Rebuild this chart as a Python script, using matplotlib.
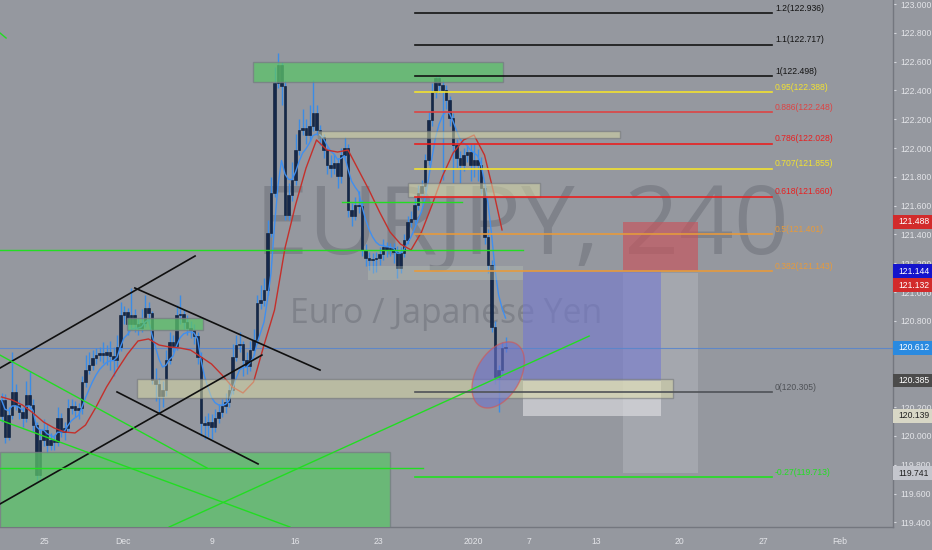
import matplotlib
matplotlib.use("Agg")
import matplotlib.pyplot as plt
import matplotlib.transforms as mtransforms
from matplotlib.patches import Rectangle, Polygon
import numpy as np
import pandas as pd

# ---- EURJPY 240 candles ----
first_open = 120.14
closes = [120.250, 119.993, 120.146, 120.306, 120.215, 120.167, 120.125, 120.285, 120.215, 120.076,
          119.729, 119.972, 120.042, 119.938, 119.972, 119.958, 120.125, 120.028, 120.056, 120.194,
          120.208, 120.181, 120.194, 120.375, 120.458, 120.493, 120.542, 120.563, 120.576, 120.563,
          120.583, 120.556, 120.528, 120.618, 120.840, 120.861, 120.778, 120.840, 120.778, 120.750,
          120.785, 120.889, 120.854, 120.389, 120.361, 120.278, 120.319, 120.528, 120.653, 120.625,
          120.840, 120.847, 120.792, 120.750, 120.736, 120.694, 120.549, 120.090, 120.076, 120.097,
          120.063, 120.125, 120.167, 120.208, 120.236, 120.319, 120.549, 120.632, 120.639, 120.528,
          120.486, 120.597, 120.667, 120.924, 120.944, 121.014, 121.410, 121.688, 122.451, 122.576,
          122.431, 121.535, 121.674, 121.778, 121.986, 122.125, 122.139, 122.090, 122.153, 122.243,
          122.125, 122.076, 121.986, 121.882, 121.861, 121.896, 121.806, 121.951, 122.000, 121.569,
          121.528, 121.604, 121.597, 121.292, 121.236, 121.222, 121.229, 121.236, 121.264, 121.313,
          121.292, 121.306, 121.278, 121.167, 121.271, 121.361, 121.486, 121.507, 121.604, 121.688,
          121.736, 121.917, 122.194, 122.389, 122.486, 122.438, 122.403, 122.333, 122.208, 122.021,
          121.931, 121.882, 121.951, 121.972, 121.882, 121.917, 121.882, 121.722, 121.382, 121.188,
          120.757, 120.410, 120.458, 120.611, 120.612]
highs = [120.30, 120.29, 120.20, 120.58, 120.36, 120.25, 120.20, 120.38, 120.45, 120.26,
         120.10, 120.05, 120.12, 120.08, 120.02, 120.01, 120.20, 120.16, 120.10, 120.26,
         120.26, 120.24, 120.23, 120.42, 120.56, 120.58, 120.60, 120.61, 120.62, 120.65,
         120.63, 120.66, 120.62, 120.70, 120.93, 120.90, 120.89, 121.03, 120.88, 120.82,
         120.88, 120.98, 120.93, 120.87, 120.47, 120.40, 120.38, 120.60, 120.72, 120.70,
         120.91, 120.98, 120.88, 120.84, 120.80, 120.78, 120.72, 120.58, 120.14, 120.16,
         120.15, 120.19, 120.22, 120.26, 120.30, 120.38, 120.64, 120.70, 120.72, 120.66,
         120.58, 120.66, 120.74, 120.98, 121.05, 121.10, 121.50, 121.80, 122.56, 122.66,
         122.60, 122.47, 121.76, 121.90, 122.10, 122.20, 122.27, 122.20, 122.30, 122.47,
         122.30, 122.16, 122.10, 122.01, 121.95, 121.96, 121.93, 122.00, 122.08, 122.03,
         121.62, 121.66, 121.70, 121.64, 121.33, 121.28, 121.27, 121.28, 121.31, 121.37,
         121.35, 121.34, 121.34, 121.32, 121.31, 121.40, 121.53, 121.56, 121.65, 121.74,
         121.78, 121.96, 122.26, 122.45, 122.50, 122.50, 122.47, 122.44, 122.36, 122.24,
         122.06, 121.98, 122.00, 122.02, 122.03, 122.03, 121.99, 121.94, 121.75, 121.44,
         121.22, 120.80, 120.49, 120.65, 120.69]
lows = [120.10, 119.95, 119.97, 120.12, 120.18, 120.12, 120.06, 120.10, 120.19, 120.03,
        119.68, 119.71, 119.93, 119.88, 119.90, 119.90, 119.93, 119.99, 119.97, 120.03,
        120.15, 120.13, 120.12, 120.15, 120.34, 120.43, 120.46, 120.50, 120.52, 120.51,
        120.49, 120.46, 120.42, 120.48, 120.59, 120.78, 120.70, 120.75, 120.72, 120.70,
        120.72, 120.76, 120.80, 120.36, 120.24, 120.17, 120.20, 120.28, 120.50, 120.58,
        120.60, 120.78, 120.74, 120.70, 120.68, 120.64, 120.50, 120.00, 119.98, 119.99,
        119.98, 120.03, 120.09, 120.13, 120.16, 120.20, 120.29, 120.52, 120.58, 120.42,
        120.43, 120.45, 120.56, 120.64, 120.88, 120.90, 120.98, 121.38, 121.66, 122.42,
        122.30, 121.50, 121.50, 121.63, 121.74, 121.95, 122.09, 122.03, 122.05, 122.12,
        122.09, 122.02, 121.93, 121.82, 121.80, 121.82, 121.72, 121.76, 121.92, 121.52,
        121.46, 121.50, 121.55, 121.25, 121.18, 121.15, 121.13, 121.14, 121.19, 121.22,
        121.24, 121.25, 121.20, 121.10, 121.13, 121.24, 121.33, 121.45, 121.47, 121.57,
        121.65, 121.70, 121.88, 122.15, 122.35, 122.38, 121.78, 122.27, 122.15, 121.76,
        121.86, 121.76, 121.84, 121.90, 121.77, 121.80, 121.77, 121.68, 121.33, 121.13,
        120.72, 120.36, 120.17, 120.43, 120.58]

# slow red MA, read every 3rd bar
red_ma_bars = list(range(0, 142, 3)) + [143]
red_ma = [120.271, 120.250, 120.215, 120.160, 120.097, 120.056, 120.028, 120.021, 120.076, 120.201,
          120.340, 120.458, 120.569, 120.660, 120.674, 120.632, 120.618, 120.611, 120.597, 120.549,
          120.500, 120.424, 120.340, 120.299, 120.375, 120.632, 120.875, 121.306, 121.604, 121.861,
          122.056, 121.986, 121.972, 121.986, 121.847, 121.708, 121.556, 121.417, 121.333, 121.292,
          121.417, 121.604, 121.806, 121.965, 122.056, 122.090, 121.951, 121.653, 121.431]

# fib retracement
fib_ratios = ['1.2', '1.1', '1', '0.95', '0.886', '0.786', '0.707', '0.618', '0.5', '0.382', '0', '-0.27']
fib_prices = [122.936, 122.717, 122.498, 122.388, 122.248, 122.028, 121.855, 121.660, 121.401, 121.143, 120.305, 119.713]
fib_colors = ['#141414', '#141414', '#141414', '#f2e230', '#dd4444', '#e82020', '#f2e230', '#e82020',
              '#e69a3c', '#e69a3c', '#4f5257', '#22e022']

# time axis
date_labels = ['25', 'Dec', '9', '16', '23', '2020', '7', '13', '20', '27', 'Feb']
date_ticks = [12.3, 34.7, 60.0, 84.0, 107.8, 134.7, 150.7, 169.8, 193.6, 217.6, 239.4]

# price axis tags
tag_prices = [121.488, 121.144, 121.132, 120.612, 120.385, 120.139, 119.741]
tag_colors = ['#d22b2b', '#1414cc', '#d22b2b', '#2a8ae0', '#4b4b4b', '#d8d7c6', '#c4c6cd']
tag_text = ['white', 'white', 'white', 'white', 'white', '#222222', '#222222']
tag_shift = [0, 0, -0.085, 0, 0, 0, 0]

bg = '#95989f'
font = ['Liberation Sans', 'DejaVu Sans']
fs = 6.2

fig = plt.figure(figsize=(9.32, 5.5), dpi=100, facecolor=bg)
ax = fig.add_axes([0, 23 / 550, 893 / 932, 527 / 550])
ax.set_facecolor(bg)
ax.set_xlim(-0.43, 254.7)
ax.set_ylim(119.368, 123.028)

# watermark
ax.text(0.584, 0.565, 'EURJPY, 240', transform=ax.transAxes, ha='center', va='center',
        fontsize=69, color='#7f828a', family='Open Sans', zorder=0.5)
ax.text(0.5, 0.405, 'Euro / Japanese Yen', transform=ax.transAxes, ha='center', va='center',
        fontsize=24.3, color='#7f828a', family='Open Sans', zorder=0.5)

# position tool
ax.add_patch(Rectangle((177.6, 119.741), 21.4, 121.132 - 119.741, fc='#b4b7be', ec='none', alpha=0.5, zorder=1))
ax.add_patch(Rectangle((149.0, 120.139), 39.4, 120.385 - 120.139, fc='#e2e2e6', ec='none', alpha=0.6, zorder=1.1))
ax.add_patch(Rectangle((149.0, 120.385), 39.4, 121.144 - 120.385, fc='#7479d0', ec='none', alpha=0.6, zorder=1.1))
ax.add_patch(Rectangle((177.6, 121.144), 21.4, 121.488 - 121.144, fc='#c8545c', ec='none', alpha=0.65, zorder=1.1))

# candles
n = len(closes)
idx = np.arange(n)
opens = np.array([first_open] + closes[:-1])
c = np.array(closes)
bottoms = np.minimum(opens, c)
heights = np.maximum(np.abs(c - opens), 0.008)
ax.vlines(idx, lows, highs, color='#3a8ce6', lw=1, zorder=4)
ax.bar(idx, heights, bottom=bottoms, width=0.74, color='#15284a', edgecolor='#0b1830', lw=0.4, zorder=5)

ema = pd.Series(closes).ewm(span=7, adjust=False).mean()
ax.plot(idx, ema, color='#3f8ff0', lw=1, zorder=6)
ax.plot(red_ma_bars, red_ma, color='#c4302b', lw=1, zorder=6)

# zones
khaki = dict(fc='#d8d8a6', ec='#6c6f78', lw=1, alpha=0.55, zorder=7)
ax.add_patch(Rectangle((38.7, 120.264), 153.2, 0.132, **khaki))
ax.add_patch(Rectangle((90.4, 122.069), 86.3, 0.049, **khaki))
ax.add_patch(Rectangle((116.1, 121.660), 37.8, 0.097, **khaki))
ax.add_patch(Rectangle((104.7, 121.083), 44.3, 0.098, fc='#b8c4b8', ec='none', alpha=0.35, zorder=7))
green = dict(fc='#5cc46a', ec='#787b84', lw=1, alpha=0.75, zorder=7)
ax.add_patch(Rectangle((71.9, 122.458), 71.4, 0.139, **green))
ax.add_patch(Rectangle((35.9, 120.736), 21.7, 0.083, **green))
ax.add_patch(Rectangle((-0.43, 119.30), 111.4, 0.589, **green))

# ellipse around the low
t = np.linspace(0, 2 * np.pi, 120)
ang = np.deg2rad(60)
ex = 36 * np.cos(t) * np.cos(ang) - 22 * np.sin(t) * np.sin(ang)
ey = 36 * np.cos(t) * np.sin(ang) + 22 * np.sin(t) * np.cos(ang)
ax.add_patch(Polygon(np.column_stack([141.9 + ex / 3.5, 120.424 + ey / 144]), closed=True,
                     fc='#6d72cc', ec='#d9534f', lw=1, alpha=0.6, zorder=8))

# price line
ax.axhline(closes[-1], color='#5a86cc', lw=0.8, alpha=0.9, zorder=3)

# trend lines
black_lines = [((-0.43, 120.472), (55.3, 121.250)),
               ((-0.43, 119.528), (74.4, 120.562)),
               ((38.1, 121.028), (91.0, 120.458)),
               ((33.0, 120.306), (73.3, 119.806))]
for (x0, y0), (x1, y1) in black_lines:
    ax.plot([x0, x1], [y0, y1], color='#101010', lw=1.2, zorder=9)

green_lines = [((-0.43, 120.562), (58.7, 119.778)),
               ((-0.43, 120.111), (82.4, 119.368)),
               ((47.9, 119.368), (167.9, 120.694)),
               ((-0.43, 119.778), (120.4, 119.778)),
               ((-0.43, 121.292), (148.9, 121.292)),
               ((97.3, 121.625), (131.6, 121.625)),
               ((-0.43, 122.799), (1.3, 122.764))]
for (x0, y0), (x1, y1) in green_lines:
    ax.plot([x0, x1], [y0, y1], color='#22dd22', lw=1, zorder=9)

# fib levels
for r, p, col in zip(fib_ratios, fib_prices, fib_colors):
    ax.plot([118.1, 220.1], [p, p], color=col, lw=1.2, zorder=9)
    ax.text(221.0, p + 0.004, f'{r}({p:.3f})', color=col, fontsize=fs, family=font,
            ha='left', va='bottom', zorder=10)

# axes styling
for s in ['top', 'left']:
    ax.spines[s].set_visible(False)
for s in ['right', 'bottom']:
    ax.spines[s].set_color('#74777f')
    ax.spines[s].set_linewidth(1)

ax.yaxis.tick_right()
yt = np.arange(119.4, 123.01, 0.2)
ax.set_yticks(yt)
ax.set_yticklabels([f'{v:.3f}' for v in yt], family=font, fontsize=fs)
ax.tick_params(axis='y', length=2.5, color='#d4d6dc', labelcolor='#e3e4e8', pad=3)
ax.set_xticks(date_ticks)
ax.set_xticklabels(date_labels, family=font, fontsize=fs)
ax.tick_params(axis='x', length=0, labelcolor='#e3e4e8', pad=7)

trans = mtransforms.blended_transform_factory(ax.transAxes, ax.transData)
for p, col, tc, sh in zip(tag_prices, tag_colors, tag_text, tag_shift):
    yc = p + sh
    ax.add_patch(Rectangle((1.0, yc - 0.048), 0.05, 0.096, transform=trans, fc=col, ec='none',
                           clip_on=False, zorder=11))
    ax.text(1.0065, yc, f'{p:.3f}', transform=trans, color=tc, fontsize=fs, family=font,
            ha='left', va='center', clip_on=False, zorder=12)

fig.savefig('out.png', dpi=100, facecolor=bg)
